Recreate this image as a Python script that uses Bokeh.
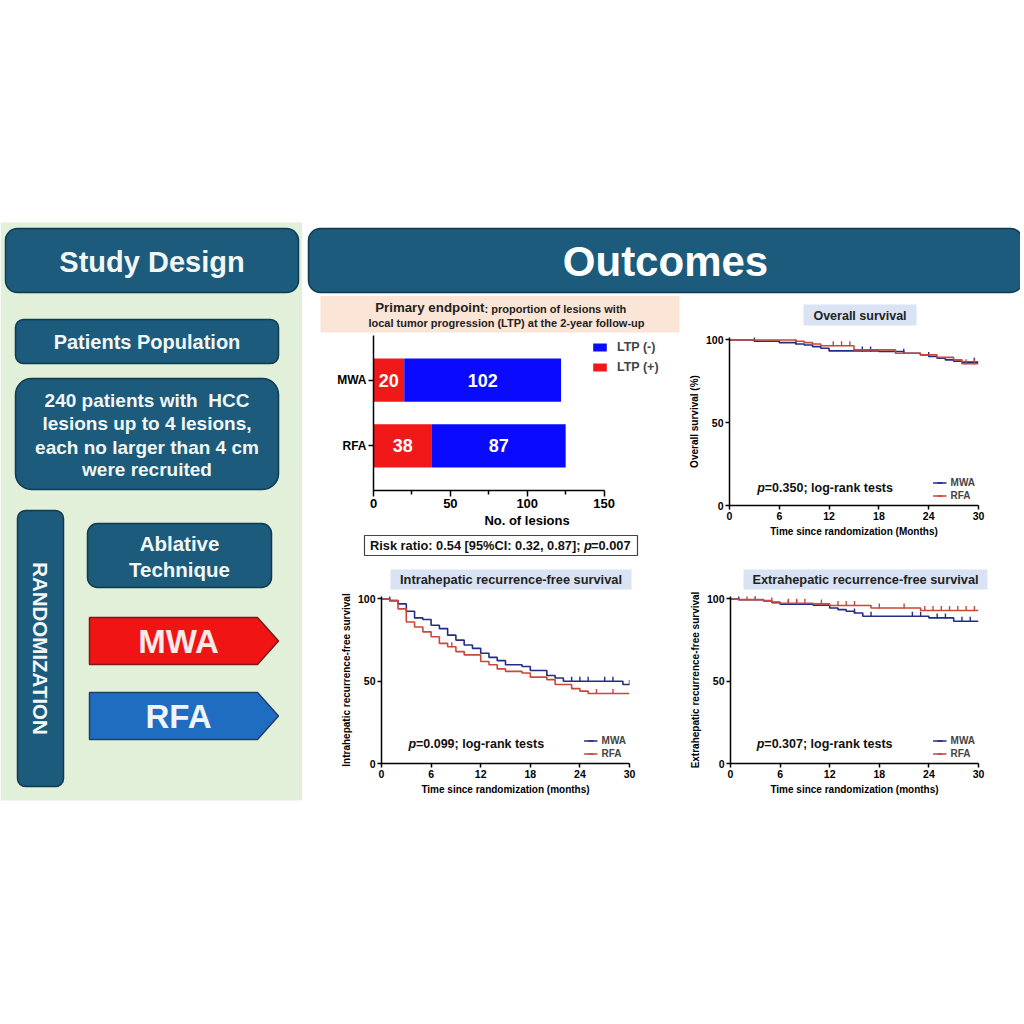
import numpy as np
from bokeh.plotting import figure
from bokeh.layouts import row, column
from bokeh.models import Range1d, FixedTicker, Legend, LegendItem, Label, ColumnDataSource
from bokeh.core.properties import value
from bokeh.embed import file_html
from bokeh.resources import INLINE

FONT = "Liberation Sans"
TEAL = "#1c5b7b"
TEAL_EDGE = "#0f3b52"
GREEN = "#e2f0d9"
PEACH = "#fbe5d6"
LIGHTBLUE = "#dae3f3"
BAR_BLUE = "#0a0aff"
BAR_RED = "#f01818"
KM_BLUE = "#232d86"
KM_RED = "#c8483a"

# ---------------- data ----------------
bar_groups = ["MWA", "RFA"]
ltp_pos = [20, 38]
ltp_neg = [102, 87]
bar_x_ticks = [0, 50, 100, 150]
bar_x_minor = [25, 75, 125]

km_x_ticks = [0, 6, 12, 18, 24, 30]
km_y_ticks = [0, 50, 100]

# Overall survival
os_mwa_t = [0, 3, 6, 8, 9, 10, 11, 12, 18, 21, 23, 24, 25, 26, 27, 28, 30]
os_mwa_s = [100, 99.2, 98.4, 97.6, 97, 96, 95, 93.4, 93, 92, 91, 90, 89, 88, 87.2, 86.6, 86.6]
os_mwa_c = [3, 8, 16, 17, 21, 24, 29.5]
os_rfa_t = [0, 8, 9, 10, 11, 15, 20, 23, 25, 27, 28, 30]
os_rfa_s = [100, 99.2, 98.4, 97.6, 96.5, 94, 92, 91, 89.5, 88, 85.6, 85.6]
os_rfa_c = [12.5, 13.5, 14.5, 28.5, 29.5]

# Intrahepatic recurrence-free survival
ih_mwa_t = [0, 1, 2, 3, 4, 5, 6, 7, 8, 9, 10, 11, 12, 13, 14, 15, 17, 18, 20, 21, 22, 29.2, 30]
ih_mwa_s = [100, 99, 97, 92.5, 88.5, 87.5, 84, 82, 78, 75, 72, 70, 67, 64.5, 62.5, 60, 59, 56.5, 53.5, 52, 50, 48, 48]
ih_mwa_c = [1, 23, 24, 25, 27, 28, 30]
ih_rfa_t = [0, 1, 2, 3, 4, 5, 6, 7, 8, 9, 10, 12, 13, 14, 15, 17, 18, 20, 21, 23, 24, 25, 30]
ih_rfa_s = [100, 99, 94, 86, 83, 80, 77, 73, 71, 68, 66, 62, 60, 57.5, 56, 55, 52.5, 51, 48, 45.5, 44, 42.5, 42.5]
ih_rfa_c = [8.5, 26, 28]

# Extrahepatic recurrence-free survival
eh_mwa_t = [0, 1, 4, 5, 6, 10, 12, 13, 14, 15, 16, 24, 27, 30]
eh_mwa_s = [100, 99.5, 98.8, 97.8, 96.8, 96.2, 94.5, 93.5, 92.5, 91.5, 89.5, 88.5, 86.5, 86.5]
eh_mwa_c = [1, 3, 7, 8, 15, 17, 22, 23, 25, 26, 28, 29]
eh_rfa_t = [0, 1, 4, 5, 6, 10, 12, 17, 23, 30]
eh_rfa_s = [100, 99.6, 99, 98.2, 97.4, 97, 96, 94.5, 93, 93]
eh_rfa_c = [2, 3, 5, 7, 8, 9, 11, 13, 14, 15, 18, 21, 23.5, 24.5, 25.5, 26.5, 27.5, 28.5, 29.5]


# ---------------- helpers ----------------
def canvas(x0, x1, y0, y1):
    p = figure(width=x1 - x0, height=y1 - y0, x_range=Range1d(x0, x1), y_range=Range1d(y1, y0),
               output_backend="svg", toolbar_location=None, min_border=0,
               x_axis_type=None, y_axis_type=None, frame_align=False)
    p.outline_line_color = None
    p.background_fill_color = "white"
    p.border_fill_color = "white"
    return p


def txt(p, x, y, s, size, color="white", align="center", style="bold", angle=0.0):
    p.text(x=[x], y=[y], text=[s], text_font=value(FONT), text_font_size=f"{size}px",
           text_font_style=style, text_color=color, text_align=align,
           text_baseline="middle", angle=angle)


def rbox(p, l, r, t, b, fill, line=TEAL_EDGE, radius=10, lw=1.5):
    p.quad(left=[l], right=[r], top=[t], bottom=[b], fill_color=fill,
           line_color=line, line_width=lw, border_radius=radius)


def style_axes(p, tick_size, label_size):
    for ax in p.axis:
        ax.axis_line_width = 1.5
        ax.axis_line_color = "black"
        ax.major_tick_line_width = 1.5
        ax.major_tick_line_color = "black"
        ax.major_tick_in = 0
        ax.major_tick_out = 4
        ax.minor_tick_line_color = None
        ax.major_label_text_font = FONT
        ax.major_label_text_font_style = "bold"
        ax.major_label_text_font_size = tick_size
        ax.major_label_text_color = "black"
        ax.axis_label_text_font = FONT
        ax.axis_label_text_font_style = "bold"
        ax.axis_label_text_font_size = label_size
        ax.axis_label_text_color = "black"
        ax.major_label_standoff = 2
        ax.axis_label_standoff = 3


# ---------------- left panel ----------------
left = canvas(0, 302, 0, 805)
left.quad(left=[0], right=[302], top=[222], bottom=[800], fill_color=GREEN, line_color=None)
rbox(left, 5, 298, 228, 292, TEAL, radius=12)
txt(left, 151.5, 261, "Study Design", 29, "#f2f7f5")
rbox(left, 15, 278, 319, 363, TEAL, radius=8)
txt(left, 146.5, 341, "Patients Population", 20, "#f2f7f5")
rbox(left, 15, 278, 378, 489, TEAL, radius=16)
for yy, line in zip([400, 423, 447, 469], ["240 patients with\u00a0 HCC", "lesions up to 4 lesions,",
                                            "each no larger than 4 cm", "were recruited"]):
    txt(left, 146.5, yy, line, 19, "#f2f7f5")
rbox(left, 17, 63, 510, 786, TEAL, radius=8)
txt(left, 40, 648, "RANDOMIZATION", 20.5, "#f2f7f5", angle=-np.pi / 2)
rbox(left, 87, 271, 523, 587, TEAL, radius=10)
txt(left, 179, 543, "Ablative", 20.5, "#f2f7f5")
txt(left, 179, 569, "Technique", 20.5, "#f2f7f5")
left.patches(xs=[[89, 257, 278, 257, 89], [89, 257, 278, 257, 89]],
             ys=[[617, 617, 640.5, 664, 664], [692, 692, 715.5, 739, 739]],
             fill_color=["#f01414", "#1f6dc0"], line_color=["#7a1a1a", "#1f3f66"], line_width=1.5)
txt(left, 178, 641, "MWA", 33, "#fbeaea")
txt(left, 178, 716, "RFA", 33, "#f0f4fa")

# ---------------- banner ----------------
banner = canvas(302, 1020, 0, 295)
rbox(banner, 308, 1022, 228, 292, TEAL, radius=12)
txt(banner, 665, 261, "Outcomes", 42, "white")

# ---------------- bar chart header ----------------
hA = canvas(302, 685, 295, 333)
hA.quad(left=[320], right=[679], top=[295], bottom=[332], fill_color=PEACH, line_color=None)
txt(hA, 484, 307, "Primary endpoint", 13.3, "#222222", align="right")
txt(hA, 484, 308, ": proportion of lesions with", 11, "#222222", align="left")
txt(hA, 506, 322, "local tumor progression (LTP) at the 2-year follow-up", 11, "#222222")

# ---------------- bar chart ----------------
n = len(bar_groups)
yb = [n - 1 - i for i in range(n)]
tot = [a + b for a, b in zip(ltp_pos, ltp_neg)]
src = ColumnDataSource(dict(
    y=yb, pos=ltp_pos, tot=tot,
    pos_mid=[a / 2 for a in ltp_pos],
    neg_mid=[a + b / 2 for a, b in zip(ltp_pos, ltp_neg)],
    pos_lab=[str(a) for a in ltp_pos],
    neg_lab=[str(b) for b in ltp_neg],
))
pb = figure(width=383, height=199, x_range=Range1d(0, 199.7), y_range=Range1d(-0.68, 1.68),
            output_backend="svg", toolbar_location=None, frame_align=False,
            min_border_left=71, min_border_right=5, min_border_top=2, min_border_bottom=42)
pb.grid.visible = False
pb.outline_line_color = None
pb.background_fill_color = "white"
rr = pb.hbar(y="y", left=0, right="pos", height=0.66, fill_color=BAR_RED, line_color=None, source=src)
rb = pb.hbar(y="y", left="pos", right="tot", height=0.66, fill_color=BAR_BLUE, line_color=None, source=src)
pb.text(x="pos_mid", y="y", text="pos_lab", source=src, text_font=value(FONT), text_font_style="bold",
        text_font_size="18px", text_color="white", text_align="center", text_baseline="middle")
pb.text(x="neg_mid", y="y", text="neg_lab", source=src, text_font=value(FONT), text_font_style="bold",
        text_font_size="18px", text_color="white", text_align="center", text_baseline="middle")
style_axes(pb, "13px", "13px")
pb.xaxis.bounds = (bar_x_ticks[0], bar_x_ticks[-1])
pb.xaxis.ticker = FixedTicker(ticks=bar_x_ticks, minor_ticks=bar_x_minor)
pb.xaxis.major_tick_out = 6
pb.xaxis.minor_tick_line_color = "black"
pb.xaxis.minor_tick_line_width = 1.5
pb.xaxis.minor_tick_out = 4
pb.xaxis.minor_tick_in = 0
pb.xaxis.axis_label = "No. of lesions"
pb.xaxis.axis_label_standoff = 2
pb.yaxis.ticker = FixedTicker(ticks=yb)
pb.yaxis.major_label_overrides = {y: g for y, g in zip(yb, bar_groups)}
pb.yaxis.major_label_text_font_size = "12px"
pb.yaxis.major_tick_out = 5
leg_b = Legend(items=[LegendItem(label="LTP (-)", renderers=[rb]), LegendItem(label="LTP (+)", renderers=[rr])],
               location=(218, 113), glyph_width=17, glyph_height=10, label_height=20, spacing=0,
               padding=0, margin=0, label_standoff=9, label_text_font=FONT,
               label_text_font_style="bold", label_text_font_size="12.5px",
               background_fill_alpha=0, border_line_alpha=0)
pb.add_layout(leg_b)

# ---------------- risk ratio box ----------------
risk = canvas(302, 685, 532, 560)
risk.quad(left=[364], right=[637], top=[535], bottom=[555], fill_color="white",
          line_color="#444444", line_width=1.2)
txt(risk, 580, 545, "Risk ratio: 0.54 [95%CI: 0.32, 0.87];", 12.8, "#111111", align="right")
txt(risk, 583.5, 545, "p", 12.8, "#111111", align="left", style="bold italic")
txt(risk, 590.5, 545, "=0.007", 12.8, "#111111", align="left")


# ---------------- KM plots ----------------
def km_fig(w, h, bl, br, bt, bb, ylab, xlab, series, ptext, pxy):
    p = figure(width=w, height=h, x_range=Range1d(0, 30), y_range=Range1d(0, 101.5),
               output_backend="svg", toolbar_location=None, frame_align=False,
               min_border_left=bl, min_border_right=br, min_border_top=bt, min_border_bottom=bb)
    p.grid.visible = False
    p.outline_line_color = None
    p.background_fill_color = "white"
    style_axes(p, "10.5px", "10px")
    p.xaxis.ticker = FixedTicker(ticks=km_x_ticks)
    p.yaxis.ticker = FixedTicker(ticks=km_y_ticks)
    p.xaxis.axis_label = xlab
    p.yaxis.axis_label = ylab
    items = []
    for name, t, s, c, color in series:
        r1 = p.step(t, s, mode="after", line_color=color, line_width=1.6)
        ta = np.array(t)
        cy = [s[int(np.searchsorted(ta, ci, side="right")) - 1] + 1.2 for ci in c]
        r2 = p.scatter(c, cy, marker="dash", angle=np.pi / 2, size=5, line_color=color, line_width=1.4)
        items.append(LegendItem(label=name, renderers=[r1, r2]))
    leg = Legend(items=items, location="bottom_right", glyph_width=14, glyph_height=13, label_height=13,
                 spacing=0, padding=0, margin=3, label_standoff=4, label_text_font=FONT,
                 label_text_font_style="bold", label_text_font_size="10px",
                 background_fill_alpha=0, border_line_alpha=0)
    p.add_layout(leg)
    p.add_layout(Label(x=pxy[0], y=pxy[1], text="p", text_font=FONT, text_font_style="bold italic",
                       text_font_size="12.5px", text_baseline="middle", text_color="#111111"))
    p.add_layout(Label(x=pxy[0], y=pxy[1], x_offset=7.5, text=ptext, text_font=FONT, text_font_style="bold",
                       text_font_size="12.5px", text_baseline="middle", text_color="#111111"))
    return p


# OS
hOS = canvas(685, 1020, 295, 332)
hOS.quad(left=[803], right=[916], top=[304], bottom=[325], fill_color=LIGHTBLUE, line_color=None)
txt(hOS, 859.5, 315, "Overall survival", 12.5, "#222222")
p_os = km_fig(335, 228, 44, 42, 5, 55, "Overall survival (%)", "Time since randomization (Months)",
              [("MWA", os_mwa_t, os_mwa_s, os_mwa_c, KM_BLUE), ("RFA", os_rfa_t, os_rfa_s, os_rfa_c, KM_RED)],
              "=0.350; log-rank tests", (3.35, 10.3))

# Intrahepatic
hIH = canvas(302, 685, 560, 592)
hIH.quad(left=[390], right=[631], top=[569], bottom=[589], fill_color=LIGHTBLUE, line_color=None)
txt(hIH, 510.5, 579, "Intrahepatic recurrence-free survival", 12.8, "#222222")
p_ih = km_fig(383, 213, 79, 56, 4, 42, "Intrahepatic recurrence-free survival", "Time since randomization (months)",
              [("MWA", ih_mwa_t, ih_mwa_s, ih_mwa_c, KM_BLUE), ("RFA", ih_rfa_t, ih_rfa_s, ih_rfa_c, KM_RED)],
              "=0.099; log-rank tests", (3.26, 11.9))

# Extrahepatic
hEH = canvas(685, 1020, 560, 592)
hEH.quad(left=[743], right=[987], top=[569], bottom=[589], fill_color=LIGHTBLUE, line_color=None)
txt(hEH, 865, 579, "Extrahepatic recurrence-free survival", 12.8, "#222222")
p_eh = km_fig(335, 213, 45, 42, 4, 42, "Extrahepatic recurrence-free survival", "Time since randomization (months)",
              [("MWA", eh_mwa_t, eh_mwa_s, eh_mwa_c, KM_BLUE), ("RFA", eh_rfa_t, eh_rfa_s, eh_rfa_c, KM_RED)],
              "=0.307; log-rank tests", (3.19, 11.8))

colA = column(hA, pb, risk, hIH, p_ih, spacing=0)
colB = column(hOS, p_os, hEH, p_eh, spacing=0)
right = column(banner, row(colA, colB, spacing=0), spacing=0)
layout = row(left, right, spacing=0)

open("out.html", "w").write(file_html(layout, INLINE))
